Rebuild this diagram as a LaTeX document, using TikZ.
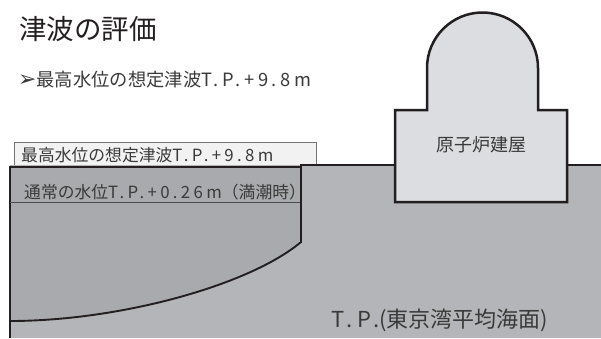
\documentclass[tikz,border=0pt]{standalone}
\usepackage{fontspec}
\setmainfont{Noto Sans CJK JP}
\newfontfamily\tpfont[LetterSpace=20]{Noto Sans CJK JP}
\newfontfamily\dingfont{DejaVu Sans}
\usepackage{xcolor}
\definecolor{ground}{HTML}{B4B5B8}
\definecolor{basin}{HTML}{A9AAAD}
\definecolor{bldg}{HTML}{DCDDE0}
\definecolor{boxfill}{HTML}{F2F2F2}
\definecolor{ink}{HTML}{231F20}
\definecolor{labeltext}{HTML}{3A3A3A}
\newcommand{\tpval}[1]{{\tpfont #1}}

\begin{document}
\begin{tikzpicture}[
  x=1pt,y=-1pt,
  lbl/.style={inner sep=0pt,text=labeltext},
  title/.style={inner sep=0pt,text=ink,font=\fontsize{27.5}{30}\selectfont},
  levelbox/.style={draw=black!55,line width=0.8pt,fill=boxfill},
  edge/.style={draw=ink,line width=1.4pt},
  wall/.style={draw=ink,line width=2.4pt},
  rim/.style={draw=ink,line width=1.9pt},
  level/.style={draw=black!70,line width=0.9pt},
  building/.style={fill=bldg,draw=ink,line width=2.5pt,line join=miter}
]
\path[use as bounding box] (0,0) rectangle (601,338);

\draw[levelbox] (14,142) rectangle (316,166);
\fill[ground] (10,165) rectangle (601,338);
\draw[edge,line width=1.2pt] (300,165) -- (601,165);

\fill[basin] (10,167) -- (301,167) -- (301,242)
  .. controls (250,285) and (120,321) .. (10,321) -- cycle;
\draw[rim] (301,242) .. controls (250,285) and (120,321) .. (10,321);
\draw[edge,line width=1.8pt] (10,167) -- (301,167);
\draw[edge] (10,166) -- (10,338);
\draw[wall] (301,164) -- (301,243);
\draw[level] (10,202) -- (300,202);

\filldraw[building] (395,202) -- (395,110) -- (427,110) -- (427,68)
  arc[start angle=180,end angle=360,radius=55.5] -- (538,110)
  -- (567,110) -- (567,202) -- cycle;

\node[title,anchor=west] (title) at (19,29) {津波の評価};
\node[lbl,anchor=west,font=\fontsize{18.3}{20}\selectfont] (bullet) at (18,80)
  {{\dingfont\fontsize{22}{22}\selectfont ➢}最高水位の想定津波\tpval{T.P.+9.8m}};
\node[lbl,anchor=west,font=\fontsize{16.8}{18}\selectfont] (tsunami) at (21,155)
  {最高水位の想定津波\tpval{T.P.+9.8m}};
\node[lbl,anchor=west,font=\fontsize{16.8}{18}\selectfont] (normal) at (24,192)
  {通常の水位\tpval{T.P.+0.26m}（満潮時）};
\node[lbl,font=\fontsize{18}{20}\selectfont] (reactor) at (481,145) {原子炉建屋};
\node[lbl,font=\fontsize{22}{24}\selectfont] (datum) at (440,320)
  {\tpval{T.P.}(東京湾平均海面)};
\end{tikzpicture}
\end{document}
